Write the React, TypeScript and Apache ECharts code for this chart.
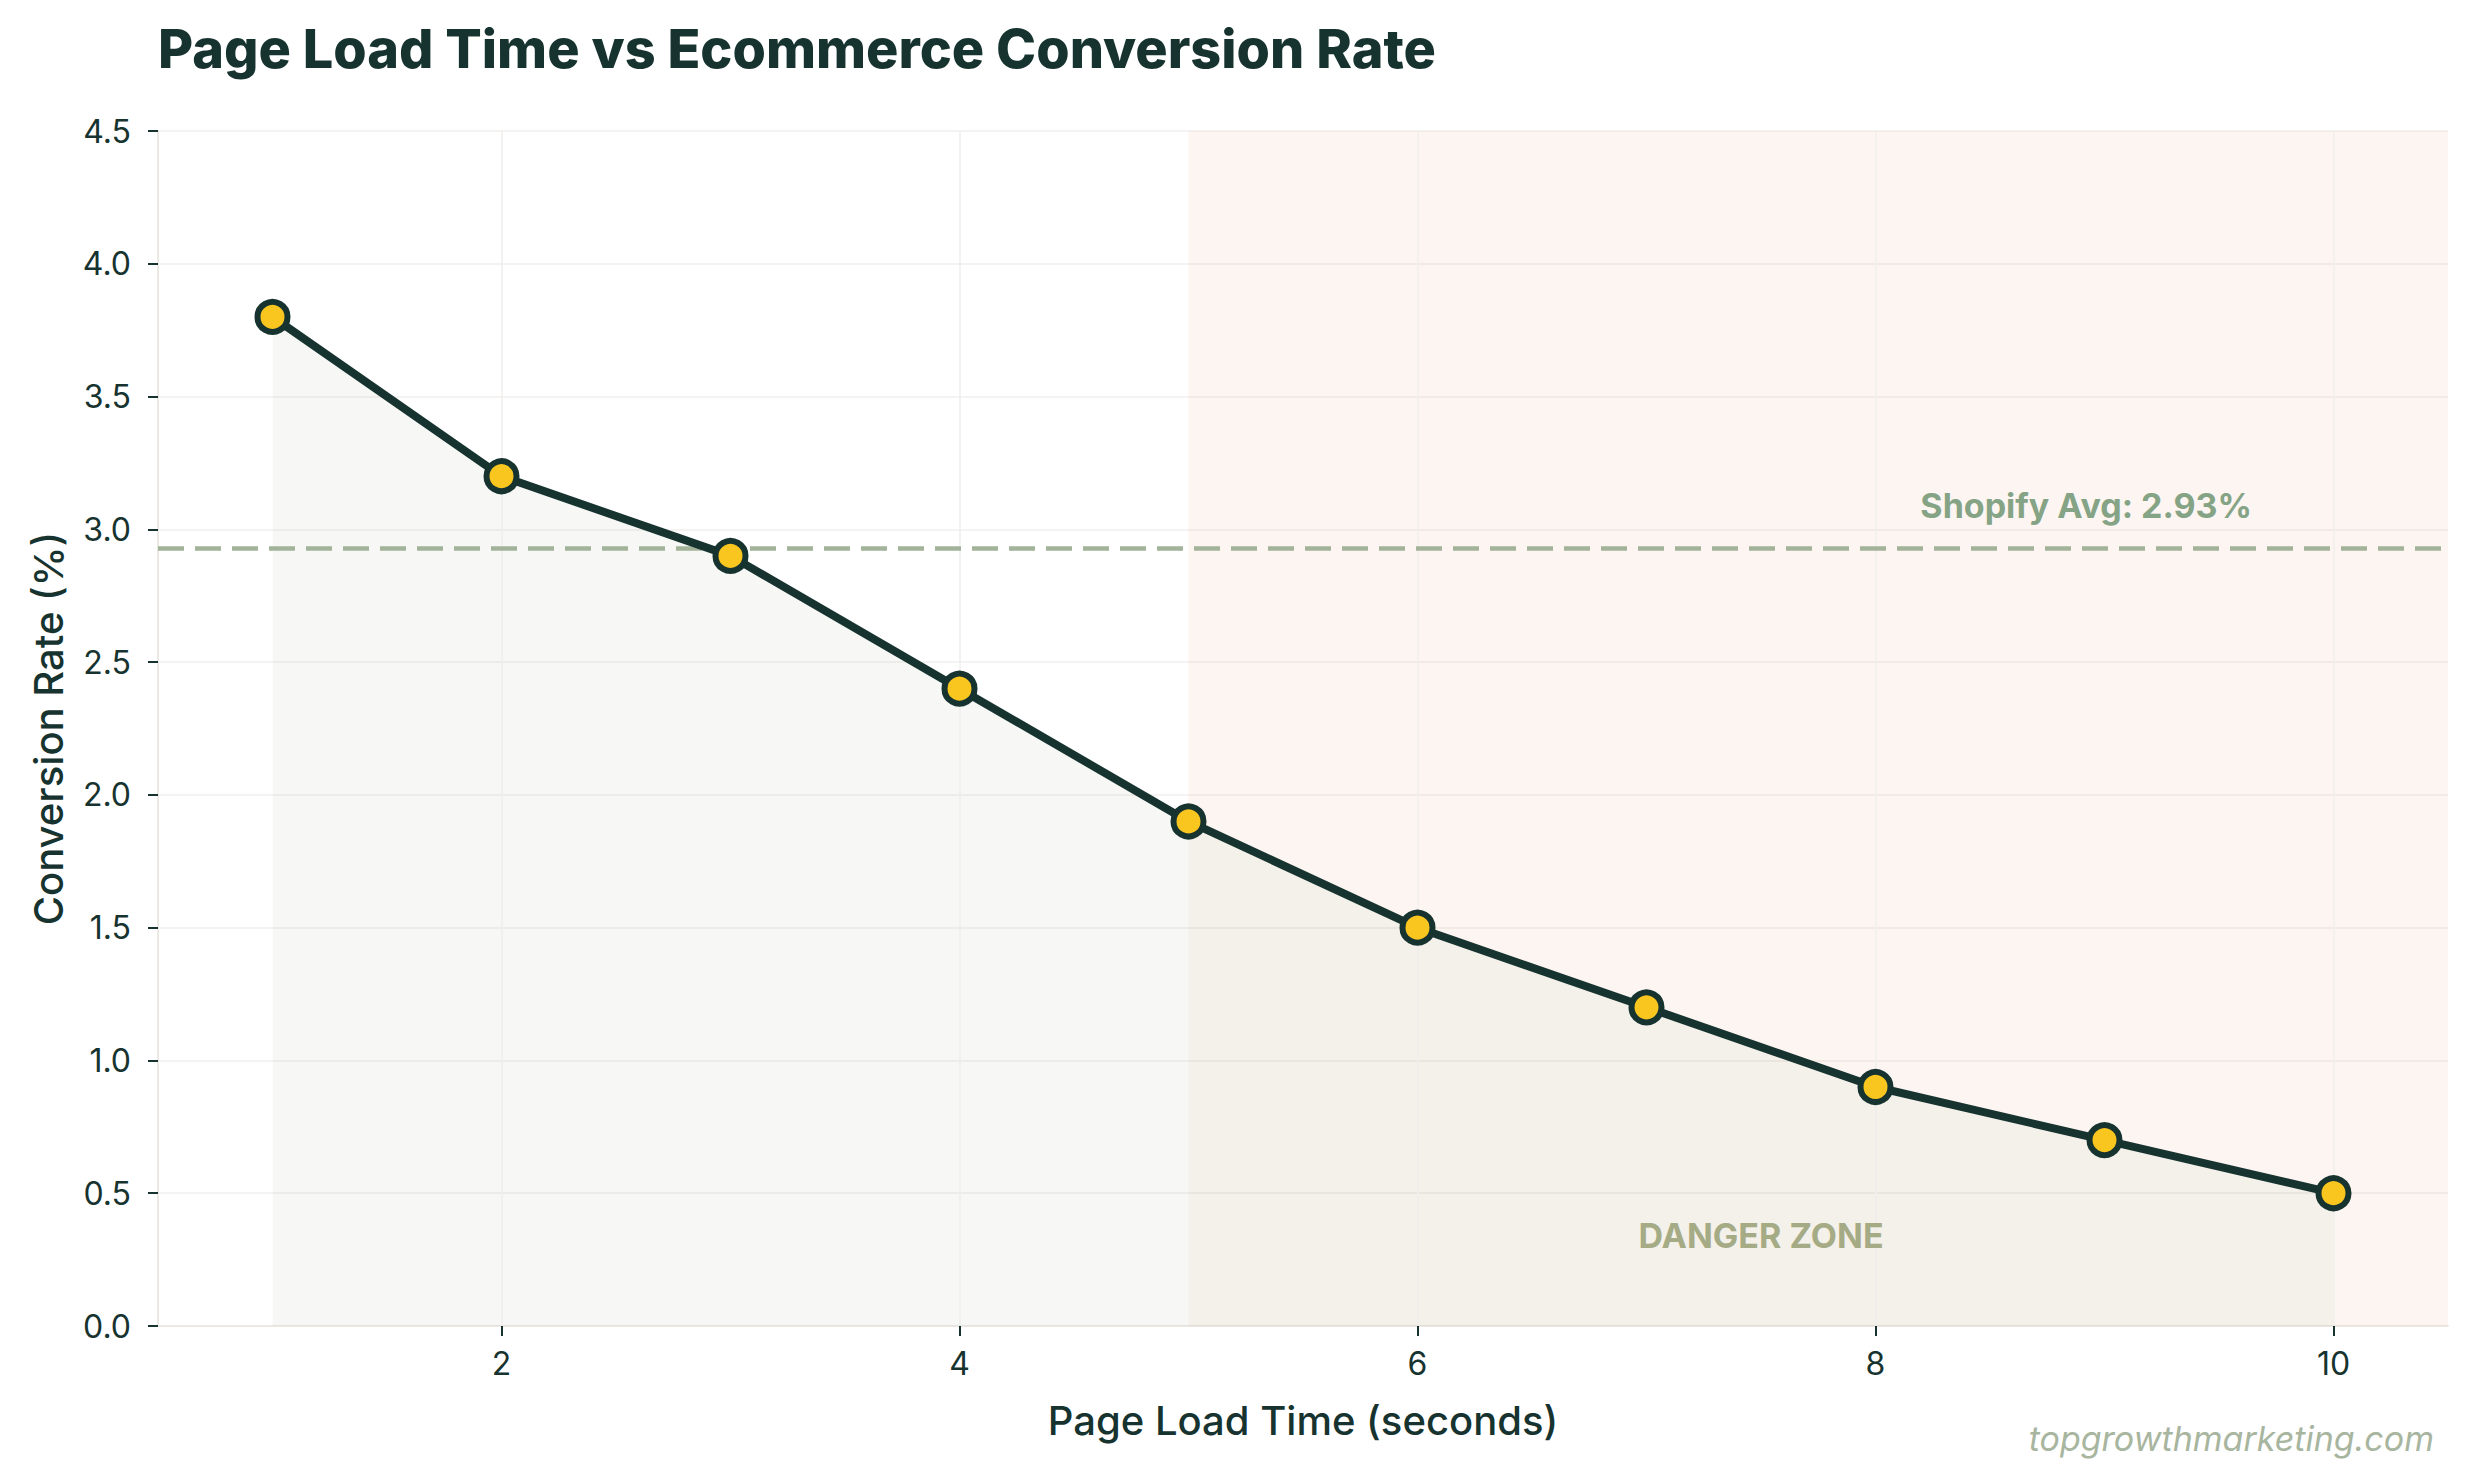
import React, { useEffect, useRef } from "react";
import * as echarts from "echarts";

// ---- data ----
const loadTimes = [1, 2, 3, 4, 5, 6, 7, 8, 9, 10];
const conversionRates = [3.8, 3.2, 2.9, 2.4, 1.9, 1.5, 1.2, 0.9, 0.7, 0.5];
const xTickValues = [2, 4, 6, 8, 10];
const shopifyAvg = 2.93;
const dangerStart = 5;
const xMin = 0.5;
const xMax = 10.5;
const yMin = 0;
const yMax = 4.5;
const yInterval = 0.5;

const titleText = "Page Load Time vs Ecommerce Conversion Rate";
const xAxisName = "Page Load Time (seconds)";
const yAxisName = "Conversion Rate (%)";
const shopifyLabel = "Shopify Avg: 2.93%";
const shopifyLabelPos = [8.92, 3.09];
const dangerLabel = "DANGER ZONE";
const dangerLabelPos = [7.5, 0.34];
const watermark = "topgrowthmarketing.com";

const DARK = "#17332f";
const FONT = 'Inter, "Noto Sans", sans-serif';

export default function App() {
  const ref = useRef<HTMLDivElement>(null);

  useEffect(() => {
    document.body.style.margin = "0";
    if (!ref.current) return;
    const chart = echarts.init(ref.current, undefined, { renderer: "svg" });
    const points = loadTimes.map((x, i) => [x, conversionRates[i]]);
    const safePoints = points.filter((p) => p[0] <= dangerStart);
    const dangerPoints = points.filter((p) => p[0] >= dangerStart);

    chart.setOption({
      animation: false,
      backgroundColor: "#ffffff",
      title: {
        text: titleText,
        left: 158,
        top: 21,
        padding: 0,
        textStyle: {
          fontFamily: FONT,
          fontSize: 54,
          fontWeight: 800,
          color: DARK,
        },
      },
      grid: { left: 158, right: 25, top: 131, bottom: 156 },
      xAxis: {
        type: "value",
        min: xMin,
        max: xMax,
        name: xAxisName,
        nameLocation: "middle",
        nameGap: 74,
        nameTextStyle: { fontFamily: FONT, fontSize: 40, fontWeight: 500, color: DARK },
        axisLine: { show: true, lineStyle: { color: "#ece8e2", width: 2 } },
        axisTick: { show: true, customValues: xTickValues, length: 10, lineStyle: { color: DARK, width: 2 } },
        axisLabel: {
          customValues: xTickValues,
          margin: 21,
          fontFamily: FONT,
          fontSize: 32,
          color: DARK,
        },
        splitLine: { show: false },
      },
      yAxis: {
        type: "value",
        min: yMin,
        max: yMax,
        interval: yInterval,
        name: yAxisName,
        nameLocation: "middle",
        nameGap: 90,
        nameTextStyle: { fontFamily: FONT, fontSize: 40, fontWeight: 500, color: DARK },
        axisLine: { show: true, lineStyle: { color: "#ece8e2", width: 2 } },
        axisTick: { show: true, length: 10, lineStyle: { color: DARK, width: 2 } },
        axisLabel: {
          margin: 27,
          fontFamily: FONT,
          fontSize: 32,
          color: DARK,
          formatter: (v: number) => v.toFixed(1),
        },
        splitLine: { show: true, lineStyle: { color: "#f1efec", width: 1.5 } },
      },
      series: [
        {
          name: "bg",
          type: "line",
          z: 1,
          data: points,
          symbol: "none",
          lineStyle: { opacity: 0, width: 0 },
          silent: true,
          markArea: {
            silent: true,
            itemStyle: { color: "rgba(224,122,95,0.08)" },
            data: [[{ xAxis: dangerStart }, { xAxis: xMax }]],
          },
          markLine: {
            silent: true,
            symbol: ["none", "none"],
            label: { show: false },
            lineStyle: { color: "#efeeeb", width: 1.5, type: "solid" },
            data: xTickValues.map((v) => ({ xAxis: v })),
          },
        },
        {
          name: "areaSafe",
          type: "line",
          z: 2,
          data: safePoints,
          symbol: "none",
          lineStyle: { opacity: 0, width: 0 },
          areaStyle: { color: "rgba(72,88,38,0.06)" },
          silent: true,
        },
        {
          name: "areaDanger",
          type: "line",
          z: 2,
          data: dangerPoints,
          symbol: "none",
          lineStyle: { opacity: 0, width: 0 },
          areaStyle: { color: "rgba(169,195,174,0.15)" },
          silent: true,
        },
        {
          name: "shopify",
          type: "line",
          z: 3,
          data: points,
          symbol: "none",
          lineStyle: { opacity: 0, width: 0 },
          silent: true,
          markLine: {
            silent: true,
            symbol: ["none", "none"],
            label: { show: false },
            lineStyle: { color: "#a3b39a", width: 4.5, type: [26, 11] },
            data: [{ yAxis: shopifyAvg }],
          },
          markPoint: {
            silent: true,
            symbol: "circle",
            symbolSize: 1,
            itemStyle: { color: "rgba(0,0,0,0)" },
            data: [
              {
                coord: shopifyLabelPos,
                label: {
                  show: true,
                  position: "inside",
                  formatter: shopifyLabel,
                  fontFamily: FONT,
                  fontSize: 34,
                  fontWeight: 700,
                  color: "#85a385",
                },
              },
              {
                coord: dangerLabelPos,
                label: {
                  show: true,
                  position: "inside",
                  formatter: dangerLabel,
                  fontFamily: FONT,
                  fontSize: 34,
                  fontWeight: 700,
                  color: "#a5ab85",
                },
              },
            ],
          },
        },
        {
          name: "Conversion Rate",
          type: "line",
          z: 5,
          data: points,
          symbol: "circle",
          symbolSize: 30,
          lineStyle: { color: DARK, width: 8 },
          itemStyle: { color: "#f9c61f", borderColor: DARK, borderWidth: 6 },
        },
      ],
      graphic: [
        {
          type: "text",
          right: 39,
          top: 1421,
          style: {
            text: watermark,
            fill: "#a8b59f",
            fontFamily: FONT,
            fontSize: 34,
            fontStyle: "italic",
          },
        },
      ],
    });

    return () => chart.dispose();
  }, []);

  return <div ref={ref} style={{ width: 2473, height: 1482 }} />;
}
